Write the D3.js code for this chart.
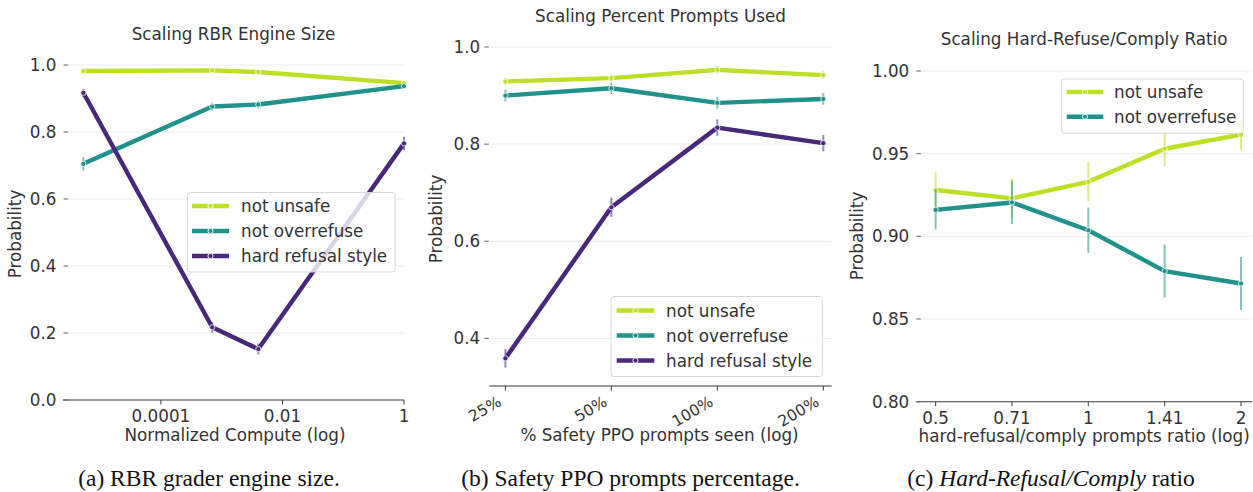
<!DOCTYPE html>
<html><head><meta charset="utf-8">
<script src="https://cdn.jsdelivr.net/npm/d3@7"></script>
<style>
body{margin:0;background:#fff}
svg text{font-family:"DejaVu Sans",sans-serif;fill:#333}
svg text.cap{font-family:"Liberation Serif","Times New Roman",serif;fill:#111}
</style>
</head><body>
<svg id="chart" width="1253" height="492"></svg>
<script>
// ---------- data ----------
const seriesNames = ["not unsafe", "not overrefuse", "hard refusal style"];
const seriesColors = ["#bddf26", "#21918c", "#482878"];

// Panel (a): Scaling RBR Engine Size
const aX = [5.3e-6, 7.0e-4, 4.0e-3, 1];
const aNotUnsafe = [0.982, 0.984, 0.979, 0.946];
const aNotUnsafeErr = [0.005, 0.006, 0.006, 0.006];
const aNotOverrefuse = [0.705, 0.876, 0.882, 0.937];
const aNotOverrefuseErr = [0.02, 0.012, 0.012, 0.008];
const aHardRefusal = [0.917, 0.217, 0.152, 0.766];
const aHardRefusalErr = [0.012, 0.016, 0.016, 0.02];
const aXTicks = [1e-4, 1e-2, 1];
const aXTickLabels = ["0.0001", "0.01", "1"];
const aYTicks = [0.0, 0.2, 0.4, 0.6, 0.8, 1.0];

// Panel (b): Scaling Percent Prompts Used
const bX = [25, 50, 100, 200];
const bNotUnsafe = [0.929, 0.936, 0.953, 0.942];
const bNotUnsafeErr = [0.008, 0.008, 0.008, 0.008];
const bNotOverrefuse = [0.900, 0.915, 0.885, 0.893];
const bNotOverrefuseErr = [0.012, 0.012, 0.012, 0.012];
const bHardRefusal = [0.359, 0.670, 0.834, 0.802];
const bHardRefusalErr = [0.019, 0.02, 0.017, 0.017];
const bXTicks = [25, 50, 100, 200];
const bXTickLabels = ["25%", "50%", "100%", "200%"];
const bYTicks = [0.4, 0.6, 0.8, 1.0];

// Panel (c): Scaling Hard-Refuse/Comply Ratio
const cX = [0.5, 0.7071, 1, 1.4142, 2];
const cNotUnsafe = [0.928, 0.923, 0.933, 0.953, 0.9615];
const cNotUnsafeErr = [0.011, 0.012, 0.012, 0.0105, 0.0094];
const cNotOverrefuse = [0.916, 0.9205, 0.9037, 0.879, 0.8715];
const cNotOverrefuseErr = [0.012, 0.013, 0.0137, 0.016, 0.016];
const cXTicks = [0.5, 0.7071, 1, 1.4142, 2];
const cXTickLabels = ["0.5", "0.71", "1", "1.41", "2"];
const cYTicks = [0.80, 0.85, 0.90, 0.95, 1.00];

// ---------- drawing ----------
const svg = d3.select("#chart");
const FS = 16.8;

function drawPanel(p) {
  const g = svg.append("g");
  const x = p.xScale, y = p.yScale;
  const [x0, x1] = x.range();
  const yb = y.range()[0];

  // grid
  g.selectAll("line.grid").data(p.yTicks.filter(t => y(t) < yb - 1)).join("line")
    .attr("x1", x0 + 2).attr("x2", x1).attr("y1", d => y(d)).attr("y2", d => y(d))
    .attr("stroke", "#ececec").attr("stroke-width", 1);

  // bottom spine
  g.append("line").attr("x1", x0).attr("x2", x1).attr("y1", yb).attr("y2", yb)
    .attr("stroke", "#3a3a3a").attr("stroke-width", 1.1);

  // y ticks
  const yt = g.selectAll("g.yt").data(p.yTicks).join("g").attr("transform", d => `translate(${x0},${y(d)})`);
  yt.append("line").attr("x1", p.yTickX1).attr("x2", p.yTickX2).attr("stroke", "#666").attr("stroke-width", 1);
  yt.append("text").attr("x", p.yLabelX).attr("dy", "0.36em").attr("text-anchor", "end")
    .style("font-size", FS + "px").text(d => p.yFormat(d));

  // x ticks
  const xt = g.selectAll("g.xt").data(p.xTicks).join("g").attr("transform", d => `translate(${x(d)},${yb})`);
  xt.append("line").attr("y1", 0).attr("y2", 4.5).attr("stroke", "#3a3a3a").attr("stroke-width", 1);
  if (p.rotate) {
    xt.append("text").attr("text-anchor", "end")
      .attr("transform", "translate(-3,19) rotate(-30)")
      .style("font-size", "15.5px").text((d, i) => p.xTickLabels[i]);
  } else {
    xt.append("text").attr("text-anchor", "middle").attr("y", 22)
      .style("font-size", FS + "px").text((d, i) => p.xTickLabels[i]);
  }

  // titles and labels
  g.append("text").attr("x", (x0 + x1) / 2).attr("y", p.titleY).attr("text-anchor", "middle")
    .style("font-size", FS + "px").text(p.title);
  g.append("text").attr("x", (x0 + x1) / 2 + (p.xLabelDx || 0)).attr("y", p.xLabelY).attr("text-anchor", "middle")
    .style("font-size", FS + "px").text(p.xLabel);
  g.append("text").attr("transform", `translate(${p.yTitleX},${p.yTitleY}) rotate(-90)`).attr("text-anchor", "middle")
    .style("font-size", FS + "px").text("Probability");

  // series
  const line = d3.line().x(d => x(d.x)).y(d => y(d.y));
  p.series.forEach((s, si) => {
    const pts = p.xs.map((xv, i) => ({x: xv, y: s.values[i], e: s.err[i]}));
    const sg = g.append("g");
    sg.selectAll("line.err").data(pts).join("line")
      .attr("x1", d => x(d.x)).attr("x2", d => x(d.x))
      .attr("y1", d => y(d.y - d.e)).attr("y2", d => y(d.y + d.e))
      .attr("stroke", s.color).attr("stroke-opacity", 0.55).attr("stroke-width", 2);
    sg.append("path").datum(pts).attr("d", line).attr("fill", "none")
      .attr("stroke", s.color).attr("stroke-width", 4.4).attr("stroke-linejoin", "round");
    sg.selectAll("circle").data(pts).join("circle")
      .attr("cx", d => x(d.x)).attr("cy", d => y(d.y)).attr("r", 2.6)
      .attr("fill", s.color).attr("stroke", "#fff").attr("stroke-width", 0.9).attr("stroke-opacity", 0.85);
  });

  // legend
  const L = p.legend;
  const lg = g.append("g");
  lg.append("rect").attr("x", L.x).attr("y", L.y).attr("width", L.w).attr("height", L.h)
    .attr("rx", 3).attr("fill", "#fff").attr("fill-opacity", 0.8).attr("stroke", "#d6d6d6").attr("stroke-width", 1);
  p.series.forEach((s, i) => {
    const ly = L.y + L.first + i * L.step;
    lg.append("line").attr("x1", L.x + L.s0).attr("x2", L.x + L.s1).attr("y1", ly).attr("y2", ly)
      .attr("stroke", s.color).attr("stroke-width", 4.4).attr("stroke-linecap", "butt");
    lg.append("circle").attr("cx", L.x + (L.s0 + L.s1) / 2).attr("cy", ly).attr("r", 2.6)
      .attr("fill", s.color).attr("stroke", "#fff").attr("stroke-width", 0.9);
    lg.append("text").attr("x", L.x + L.t).attr("y", ly).attr("dy", "0.36em")
      .style("font-size", FS + "px").text(s.name);
  });
}

// Panel a
drawPanel({
  xScale: d3.scaleLog().domain([2.45e-6, 1]).range([63, 404]),
  yScale: d3.scaleLinear().domain([0, 1]).range([400, 65]),
  xs: aX, xTicks: aXTicks, xTickLabels: aXTickLabels, yTicks: aYTicks,
  yFormat: d3.format(".1f"), yTickX1: 0.5, yTickX2: 5, yLabelX: -6.5,
  title: "Scaling RBR Engine Size", titleY: 40,
  xLabel: "Normalized Compute (log)", xLabelY: 441, xLabelDx: 1.5,
  yTitleX: 21, yTitleY: 234,
  series: [
    {name: seriesNames[0], color: seriesColors[0], values: aNotUnsafe, err: aNotUnsafeErr},
    {name: seriesNames[1], color: seriesColors[1], values: aNotOverrefuse, err: aNotOverrefuseErr},
    {name: seriesNames[2], color: seriesColors[2], values: aHardRefusal, err: aHardRefusalErr}
  ],
  legend: {x: 187.5, y: 192.5, w: 207.5, h: 79.5, first: 13.5, step: 25, s0: 4.5, s1: 41.5, t: 53.5}
});

// Panel b
drawPanel({
  xScale: d3.scaleLog().base(2).domain([22.5, 211.3]).range([489.3, 831.7]),
  yScale: d3.scaleLinear().domain([0.302, 1.0]).range([386, 47]),
  xs: bX, xTicks: bXTicks, xTickLabels: bXTickLabels, yTicks: bYTicks, rotate: true,
  yFormat: d3.format(".1f"), yTickX1: -5, yTickX2: -0.5, yLabelX: -9,
  title: "Scaling Percent Prompts Used", titleY: 22,
  xLabel: "% Safety PPO prompts seen (log)", xLabelY: 441, xLabelDx: -1,
  yTitleX: 442, yTitleY: 219,
  series: [
    {name: seriesNames[0], color: seriesColors[0], values: bNotUnsafe, err: bNotUnsafeErr},
    {name: seriesNames[1], color: seriesColors[1], values: bNotOverrefuse, err: bNotOverrefuseErr},
    {name: seriesNames[2], color: seriesColors[2], values: bHardRefusal, err: bHardRefusalErr}
  ],
  legend: {x: 611, y: 296.5, w: 211.3, h: 80, first: 14, step: 25, s0: 5.7, s1: 43.3, t: 55}
});

// Panel c
drawPanel({
  xScale: d3.scaleLog().base(2).domain([0.458, 2.1025]).range([916.3, 1252]),
  yScale: d3.scaleLinear().domain([0.80, 1.0]).range([401.7, 71]),
  xs: cX, xTicks: cXTicks, xTickLabels: cXTickLabels, yTicks: cYTicks,
  yFormat: d3.format(".2f"), yTickX1: 0, yTickX2: 4.5, yLabelX: -7,
  title: "Scaling Hard-Refuse/Comply Ratio", titleY: 45,
  xLabel: "hard-refusal/comply prompts ratio (log)", xLabelY: 442, xLabelDx: 0,
  yTitleX: 863, yTitleY: 236,
  series: [
    {name: seriesNames[0], color: seriesColors[0], values: cNotUnsafe, err: cNotUnsafeErr},
    {name: seriesNames[1], color: seriesColors[1], values: cNotOverrefuse, err: cNotOverrefuseErr}
  ],
  legend: {x: 1061.7, y: 79, w: 181.6, h: 54.3, first: 13, step: 24.7, s0: 5, s1: 41.6, t: 52.3}
});

// captions
const captions = [
  {x: 209, parts: [["(a) RBR grader engine size.", false]]},
  {x: 630.5, parts: [["(b) Safety PPO prompts percentage.", false]]},
  {x: 1051, parts: [["(c) ", false], ["Hard-Refusal/Comply", true], [" ratio", false]]}
];
captions.forEach(c => {
  const t = svg.append("text").attr("class", "cap").attr("x", c.x).attr("y", 486)
    .attr("text-anchor", "middle").style("font-size", "23.5px");
  c.parts.forEach(([s, it]) => t.append("tspan").style("font-style", it ? "italic" : "normal").text(s));
});
</script>
</body></html>
